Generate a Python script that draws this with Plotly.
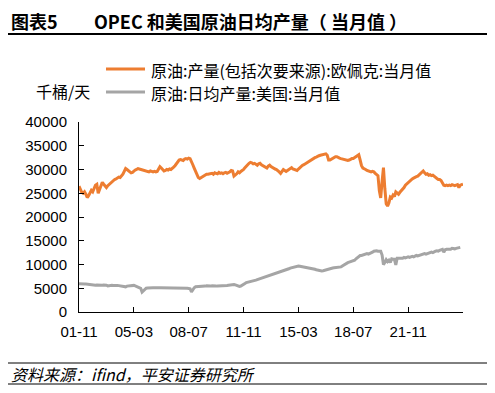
import pandas as pd
import plotly.graph_objects as go

# ---------------- data (monthly, starting 2001-11) ----------------
start_month = "2001-11-01"
opec_name = "原油:产量(包括次要来源):欧佩克:当月值"
us_name = "原油:日均产量:美国:当月值"
unit_label = "千桶/天"

opec_values = [
    26500, 25800, 25200, 25000, 25300, 24800, 24100, 24500, 25000, 25600,
    25300, 26000, 26700, 26900, 25000, 25800, 26800, 27300, 26900, 26400,
    26200, 26600, 26900, 27200, 27400, 27600, 27900, 28000, 28200, 28400,
    28300, 28600, 29000, 29600, 30200, 30000, 29700, 29400, 29300, 29400,
    29700, 29900, 30000, 30200, 30100, 30000, 29900, 29800, 29700, 29600,
    29600, 29500, 29700, 29600, 29500, 29600, 29500, 29600, 30000, 30600,
    30300, 29900, 29700, 29800, 30000, 29900, 30100, 30000, 30200, 30500,
    30800, 31200, 31600, 32000, 32100, 32000, 31900, 32200, 32300, 32200,
    32400, 32300, 31800, 31000, 30300, 29600, 28800, 28300, 28100, 28300,
    28500, 28700, 28900, 29000, 29000, 29100, 29100, 29200, 29000, 29300,
    29200, 29100, 29400, 29200, 29300, 29100, 29300, 29400, 29200, 29300,
    29500, 29800, 29700, 28600, 28800, 29100, 29500, 29300, 29600, 29800,
    30000, 30400, 30800, 31000, 31300, 31500, 31400, 31200, 31300, 31100,
    30900, 31200, 31300, 31000, 30800, 30600, 30400, 30300, 30700, 30900,
    30600, 30400, 30300, 30100, 30000, 29800, 29500, 29200, 29700, 30000,
    29800, 29600, 29800, 30000, 30200, 30400, 30100, 30000, 29900, 29800,
    30100, 30400, 30700, 30900, 31000, 31200, 31400, 31600, 31800, 32000,
    32100, 32300, 32500, 32600, 32800, 32900, 33000, 33100, 33200, 33300,
    33300, 33000, 32000, 32000, 32200, 32300, 32500, 32700, 32700, 32500,
    32400, 32300, 32200, 32100, 32000, 31900, 31900, 32000, 32200, 32300,
    32300, 32500, 32700, 33000, 33100, 32000, 30800, 30300, 30200, 30000,
    29800, 29700, 29600, 29500, 29600, 29500, 29200, 28900, 28700, 25500,
    24000, 27500, 30400, 26000, 22800, 22300, 23000, 24200, 24000, 24600,
    24300, 25300, 25000, 24800, 25200, 25500, 25800, 26200, 26700, 27000,
    27300, 27600, 27900, 28000, 28200, 28400, 28500, 28600, 28900, 29100,
    29400, 29700, 29300, 29000, 29100, 28800, 28900, 28700, 28800, 28500,
    28300, 28100, 27900, 27900, 27700, 27300, 26700, 26600, 26700, 26600,
    26700, 26600, 26800, 26700, 26600, 26700, 26800, 26200, 26700, 26800,
    26900,
]

us_values = [
    5950, 5900, 5900, 5850, 5900, 5900, 5850, 5800, 5700, 5650,
    5600, 5550, 5650, 5700, 5650, 5700, 5700, 5650, 5700, 5700,
    5650, 5500, 5600, 5650, 5650, 5600, 5650, 5650, 5600, 5550,
    5500, 5450, 5400, 5200, 5300, 5450, 5500, 5450, 5550, 5500,
    5600, 5500, 5350, 5300, 5200, 5000, 4200, 4500, 4800, 5000,
    5050, 5100, 5100, 5150, 5100, 5100, 5150, 5100, 5100, 5100,
    5100, 5150, 5100, 5100, 5100, 5150, 5100, 5100, 5100, 5100,
    5100, 5100, 5150, 5100, 5100, 5100, 5100, 5150, 5100, 5000,
    4950, 4900, 4200, 4700, 5100, 5300, 5300, 5350, 5400, 5400,
    5350, 5400, 5450, 5500, 5450, 5400, 5450, 5500, 5450, 5400,
    5450, 5500, 5500, 5450, 5500, 5550, 5550, 5600, 5600, 5650,
    5700, 5800, 5750, 5800, 5700, 5550, 5500, 5400, 5450, 5700,
    5900, 6000, 6200, 6250, 6300, 6400, 6500, 6500, 6600, 6700,
    6800, 6900, 7000, 7100, 7250, 7300, 7350, 7400, 7500, 7600,
    7750, 7850, 7900, 8000, 8100, 8200, 8300, 8450, 8600, 8700,
    8800, 8900, 9000, 9100, 9250, 9350, 9400, 9500, 9550, 9650,
    9700, 9650, 9600, 9600, 9500, 9400, 9450, 9300, 9200, 9150,
    9100, 9050, 9000, 8900, 8800, 8700, 8650, 8650, 8700, 8800,
    8850, 8900, 9000, 9100, 9200, 9250, 9300, 9350, 9350, 9400,
    9400, 9500, 9700, 9900, 10100, 10200, 10400, 10500, 10600, 10700,
    10800, 10900, 11200, 11500, 11800, 11900, 11900, 12000, 12100, 12200,
    12300, 12200, 12300, 12400, 12600, 12800, 12900, 12900, 12800, 12800,
    12800, 12000, 10000, 10400, 11000, 10600, 10900, 10400, 11200, 11100,
    11100, 9900, 11300, 11300, 11300, 11400, 11300, 11500, 11400, 11500,
    11600, 11500, 11600, 11700, 11600, 11800, 11900, 11800, 11900, 12000,
    12000, 12100, 12300, 12200, 12300, 12400, 12500, 12600, 12500, 12700,
    12800, 12900, 12800, 13000, 13100, 13200, 12600, 13100, 13200, 13200,
    13300, 13200, 13400, 13300, 13300, 13400, 13500, 13500, 13600,
]

tick_labels = ["01-11", "05-03", "08-07", "11-11", "15-03", "18-07", "21-11", "25-03"]
y_ticks = [0, 5000, 10000, 15000, 20000, 25000, 30000, 35000, 40000]

# ---------------- build ----------------
months = pd.date_range(start=start_month, periods=len(opec_values), freq="MS")
cats = [d.strftime("%y-%m") for d in months]
x_opec = cats
x_us = cats[: len(us_values)]

ORANGE = "#ED7D31"
GRAY = "#A5A5A5"
FONT = "Liberation Sans, Arial, Noto Sans CJK SC, sans-serif"
CJK = "Noto Sans CJK SC, Liberation Sans, sans-serif"

# the page body adds an 8px margin, so the figure is drawn 8px smaller
OFF = 8
W, H = 495 - OFF, 393 - OFF
# plot area in window pixels: x 79..463, y 122..312
L, T = 79 - OFF, 122 - OFF
R, B = W - (463 - OFF), H - (312 - OFF)
PW, PH = 463 - 79, 312 - 122


def px(x):
    return (x - 79) / PW


def py(y):
    return (312 - y) / PH


fig = go.Figure()
fig.add_trace(go.Scatter(x=x_opec, y=opec_values, mode="lines", name=opec_name,
                         line=dict(color=ORANGE, width=3), showlegend=False))
fig.add_trace(go.Scatter(x=x_us, y=us_values, mode="lines", name=us_name,
                         line=dict(color=GRAY, width=3), showlegend=False))

tick_text = [t if i < len(tick_labels) - 1 else "" for i, t in enumerate(tick_labels)]

fig.update_xaxes(type="category", categoryorder="array", categoryarray=cats,
                 range=[0, len(cats) - 1], tickmode="array", tickvals=tick_labels,
                 ticktext=tick_text, ticks="inside", ticklen=5, tickcolor="black",
                 showline=True, linecolor="black", linewidth=1, showgrid=False,
                 zeroline=False, tickfont=dict(family=FONT, size=15, color="black"),
                 ticklabelstandoff=6)
fig.update_yaxes(range=[0, 40000], tickmode="array", tickvals=y_ticks,
                 ticktext=[str(v) for v in y_ticks],
                 ticks="inside", ticklen=5, tickcolor="black", showline=True,
                 linecolor="black", linewidth=1, showgrid=False, zeroline=False,
                 tickfont=dict(family=FONT, size=15, color="black"),
                 ticklabelstandoff=8)

annotations = [
    dict(x=px(9), y=py(21), text="<b>图表5</b>", xanchor="left", yanchor="middle",
         font=dict(family=CJK, size=18, color="black")),
    dict(x=px(92), y=py(21), text="<b>OPEC 和美国原油日均产量（ 当月值 ）</b>",
         xanchor="left", yanchor="middle", font=dict(family=CJK, size=18, color="black")),
    dict(x=px(149), y=py(70), text=opec_name, xanchor="left", yanchor="middle",
         font=dict(family=CJK, size=16, color="black")),
    dict(x=px(149), y=py(93), text=us_name, xanchor="left", yanchor="middle",
         font=dict(family=CJK, size=16, color="black")),
    dict(x=px(34), y=py(91), text=unit_label, xanchor="left", yanchor="middle",
         font=dict(family=CJK, size=16, color="black")),
    dict(x=px(9), y=py(374), text="<i>资料来源：ifind，平安证券研究所</i>",
         xanchor="left", yanchor="middle", font=dict(family=CJK, size=16, color="black")),
]
for a in annotations:
    a.update(xref="paper", yref="paper", showarrow=False)

shapes = [
    dict(type="line", x0=px(7), x1=px(489), y0=py(5), y1=py(5), line=dict(color="black", width=1)),
    dict(type="line", x0=px(7), x1=px(489), y0=py(34), y1=py(34), line=dict(color="black", width=2)),
    dict(type="line", x0=px(106), x1=px(145), y0=py(69), y1=py(69), line=dict(color=ORANGE, width=3)),
    dict(type="line", x0=px(106), x1=px(145), y0=py(92), y1=py(92), line=dict(color=GRAY, width=3)),
    dict(type="line", x0=px(7), x1=px(489), y0=py(363), y1=py(363), line=dict(color="black", width=1)),
    dict(type="line", x0=px(7), x1=px(489), y0=py(384), y1=py(384), line=dict(color="black", width=1)),
]
for s in shapes:
    s.update(xref="paper", yref="paper")

fig.update_layout(width=W, height=H, margin=dict(l=L, r=R, t=T, b=B),
                  paper_bgcolor="white", plot_bgcolor="white",
                  annotations=annotations, shapes=shapes, showlegend=False)

fig.write_html("out.html")
